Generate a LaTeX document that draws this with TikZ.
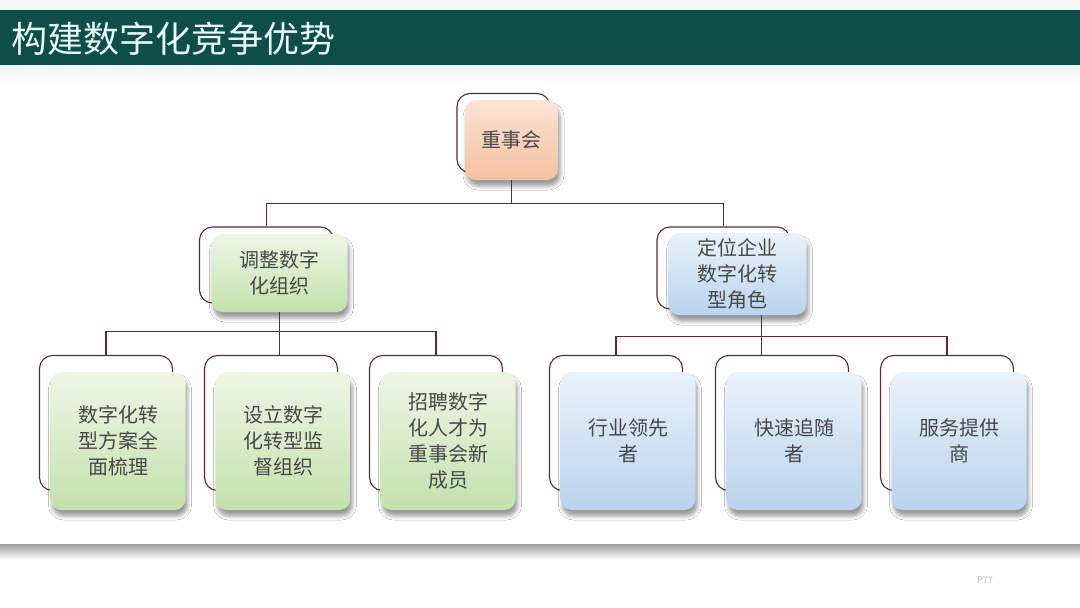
\documentclass[tikz,border=0pt]{standalone}
\usepackage{fontspec}
\setmainfont{Noto Sans CJK SC}
\definecolor{titleteal}{RGB}{14,77,72}
\definecolor{titletext}{RGB}{232,252,252}
\definecolor{linkred}{RGB}{100,38,46}
\definecolor{textgray}{RGB}{72,72,72}
\definecolor{peachtop}{RGB}{252,228,214}
\definecolor{peachbot}{RGB}{246,192,160}
\definecolor{greentop}{RGB}{238,246,230}
\definecolor{greenbot}{RGB}{196,226,172}
\definecolor{bluetop}{RGB}{234,242,250}
\definecolor{bluebot}{RGB}{186,211,237}
\usetikzlibrary{shapes,arrows,positioning,calc,fit,backgrounds,shadows.blur}

\begin{document}
\begin{tikzpicture}[x=1pt,y=-1pt,
    frontbox/.style={rounded corners=11pt, align=center, text=textgray, inner sep=0pt,
        font=\fontsize{20}{26}\selectfont,
        blur shadow={shadow xshift=2pt, shadow yshift=-6pt, shadow blur radius=4pt, shadow opacity=40}},
    peachbox/.style={frontbox, top color=peachtop, bottom color=peachbot},
    greenbox/.style={frontbox, top color=greentop, bottom color=greenbot},
    bluebox/.style={frontbox, top color=bluetop, bottom color=bluebot},
    backbox/.style={rounded corners=13pt, draw=linkred, line width=1.1pt, fill=white, inner sep=0pt},
    leafsize/.style={minimum width=135pt, minimum height=138pt},
    link/.style={draw=linkred, line width=1.2pt}]

    \useasboundingbox (0,0) rectangle (1080,608);

    % front boxes
    \node[peachbox, minimum width=93pt, minimum height=80pt] (top) at (511.5,140) {重事会};
    \node[greenbox, minimum width=136pt, minimum height=78pt] (midL) at (279.5,273) {调整数字\\化组织};
    \node[bluebox, minimum width=138pt, minimum height=82pt] (midR) at (737.5,274) {定位企业\\数字化转\\型角色};

    \node[greenbox, leafsize] (b1) at (118,441) {数字化转\\型方案全\\面梳理};
    \node[greenbox, leafsize] (b2) at (283,441) {设立数字\\化转型监\\督组织};
    \node[greenbox, leafsize] (b3) at (448,441) {招聘数字\\化人才为\\重事会新\\成员};
    \node[bluebox, leafsize] (b4) at (628,441) {行业领先\\者};
    \node[bluebox, leafsize] (b5) at (794,441) {快速追随\\者};
    \node[bluebox, leafsize] (b6) at (959,441) {服务提供\\商};

    % page, title bar and back frames
    \begin{scope}[on background layer]
        \fill[white] (0,0) rectangle (1080,608);
        \fill[gray!6] (0,0) rectangle (1080,10);
        \fill[titleteal] (0,10) rectangle (1080,65);
        \fill[cyan!6] (0,65) rectangle (1080,70);
        \shade[top color=gray!8, bottom color=white] (0,70) rectangle (1080,82);
        \shade[top color=gray!75, bottom color=white] (0,544) rectangle (1080,560);
        \node[backbox, minimum width=93pt, minimum height=79pt] (topb) at ([shift={(-8,-7)}]top.center) {};
        \node[backbox, minimum width=134pt, minimum height=76pt] (midLb) at ([shift={(-13,-8)}]midL.center) {};
        \node[backbox, minimum width=133pt, minimum height=82pt] (midRb) at ([shift={(-14,-6)}]midR.center) {};
        \node[backbox, minimum width=133pt, minimum height=135pt] (b1b) at ([shift={(-12,-18)}]b1.center) {};
        \node[backbox, minimum width=133pt, minimum height=135pt] (b2b) at ([shift={(-12,-18)}]b2.center) {};
        \node[backbox, minimum width=133pt, minimum height=135pt] (b3b) at ([shift={(-12,-18)}]b3.center) {};
        \node[backbox, minimum width=133pt, minimum height=135pt] (b4b) at ([shift={(-12,-18)}]b4.center) {};
        \node[backbox, minimum width=133pt, minimum height=135pt] (b5b) at ([shift={(-12,-18)}]b5.center) {};
        \node[backbox, minimum width=133pt, minimum height=135pt] (b6b) at ([shift={(-12,-18)}]b6.center) {};
    \end{scope}

    \node[anchor=west, inner sep=0pt, text=titletext, font=\fontsize{36}{40}\selectfont] (title) at (11,39) {构建数字化竞争优势};
    \node[text=gray!55, font=\fontsize{9}{10}\selectfont] (pnum) at (985,580) {P77};

    % connectors
    \draw[link] (top.south) -- ++(0,23) -| (midLb.north);
    \draw[link] (top.south) -- ++(0,23) -| (midRb.north);
    \draw[link] (midL.south) -- ++(0,19) -| (b1b.north);
    \draw[link] (midL.south) -- ++(0,19) -| (b3b.north);
    \draw[link] (midL.south) -- (midL.south |- b2b.north);
    \draw[link] ([xshift=24pt]midR.south) -- ++(0,21) -| (b4b.north);
    \draw[link] ([xshift=24pt]midR.south) -- ++(0,21) -| (b6b.north);
    \draw[link] ([xshift=24pt]midR.south) -- ([xshift=24pt]midR.south |- b5b.north);
\end{tikzpicture}
\end{document}
